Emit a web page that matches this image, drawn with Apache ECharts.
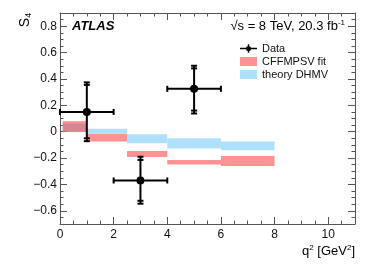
<!DOCTYPE html>
<html>
<head>
<meta charset="utf-8">
<script src="https://cdn.jsdelivr.net/npm/echarts@6/dist/echarts.min.js"></script>
<style>
html,body{margin:0;padding:0;background:#fff;}
#chart{width:374px;height:268px;}
</style>
</head>
<body>
<div id="chart"></div>
<script>
// ---- data ----
var dataX    = [1, 3, 5];
var dataXLo  = [0, 2, 4];
var dataXHi  = [2, 4, 6];
var dataY    = [0.15, -0.37, 0.325];
var statLo   = [-0.05, -0.524, 0.16];
var statHi   = [0.355, -0.214, 0.48];
var totLo    = [-0.072, -0.546, 0.138];
var totHi    = [0.374, -0.19, 0.50];

var binLo    = [0.1, 1, 2.5, 4, 6];
var binHi    = [1, 2.5, 4, 6, 8];
var cffLo    = [-0.003, -0.075, -0.192, -0.249, -0.26];
var cffHi    = [0.08, -0.015, -0.146, -0.214, -0.185];
var dhmvLo   = [0.0, -0.013, -0.088, -0.128, -0.141];
var dhmvHi   = [0.063, 0.023, -0.02, -0.05, -0.075];

var xTicks = [0, 2, 4, 6, 8, 10];
var yTicks = [-0.6, -0.4, -0.2, 0, 0.2, 0.4, 0.6, 0.8];

// ---- build ----
var FONT = "'Liberation Sans', Arial, Helvetica, sans-serif";
var dataRows = dataX.map(function (x, i) {
  return [x, dataY[i], dataXLo[i], dataXHi[i], statLo[i], statHi[i], totLo[i], totHi[i]];
});
var cffRows = binLo.map(function (l, i) { return [l, binHi[i], cffLo[i], cffHi[i]]; });
var dhmvRows = binLo.map(function (l, i) { return [l, binHi[i], dhmvLo[i], dhmvHi[i]]; });

function bandRender(params, api) {
  var p1 = api.coord([api.value(0), api.value(3)]);
  var p2 = api.coord([api.value(1), api.value(2)]);
  return {
    type: 'rect',
    shape: { x: p1[0], y: p1[1], width: p2[0] - p1[0], height: p2[1] - p1[1] },
    style: { fill: api.visual('color') }
  };
}

function errRender(params, api) {
  var x = api.value(0), y = api.value(1);
  var c = api.coord([x, y]);
  var l = api.coord([api.value(2), y]);
  var r = api.coord([api.value(3), y]);
  var sl = api.coord([x, api.value(4)]);
  var sh = api.coord([x, api.value(5)]);
  var tl = api.coord([x, api.value(6)]);
  var th = api.coord([x, api.value(7)]);
  var st = { stroke: '#000', lineWidth: 2 };
  var cw = 3;
  function line(x1, y1, x2, y2) {
    return { type: 'line', shape: { x1: x1, y1: y1, x2: x2, y2: y2 }, style: st };
  }
  return {
    type: 'group',
    children: [
      line(l[0], c[1], r[0], c[1]),
      line(c[0], tl[1], c[0], th[1]),
      line(l[0], c[1] - cw, l[0], c[1] + cw),
      line(r[0], c[1] - cw, r[0], c[1] + cw),
      line(c[0] - cw, sl[1], c[0] + cw, sl[1]),
      line(c[0] - cw, sh[1], c[0] + cw, sh[1]),
      line(c[0] - cw, tl[1], c[0] + cw, tl[1]),
      line(c[0] - cw, th[1], c[0] + cw, th[1]),
      { type: 'circle', shape: { cx: c[0], cy: c[1], r: 4 }, style: { fill: '#000' } }
    ]
  };
}

var AX = '#555';
function fmtY(v) {
  var s = (Math.round(v * 10) / 10).toString();
  return s.replace('-', '\u2212');
}
function mkX(pos, labels, major) {
  return {
    type: 'value', min: 0, max: 11, position: pos,
    interval: major ? undefined : 0.5,
    axisLine: { show: major, onZero: false, lineStyle: { color: AX, width: 1 } },
    axisTick: major
      ? { show: true, inside: true, length: 7, customValues: xTicks, lineStyle: { color: AX } }
      : { show: true, inside: true, length: 3.5, lineStyle: { color: AX } },
    axisLabel: labels
      ? { show: true, customValues: xTicks, margin: 5, fontSize: 12, color: '#111', fontFamily: FONT }
      : { show: false },
    splitLine: { show: false }
  };
}
function mkY(pos, labels, major) {
  return {
    type: 'value', min: -0.7, max: 0.9, position: pos,
    interval: major ? undefined : 0.05,
    axisLine: { show: major, onZero: false, lineStyle: { color: AX, width: 1 } },
    axisTick: major
      ? { show: true, inside: true, length: 7, customValues: yTicks, lineStyle: { color: AX } }
      : { show: true, inside: true, length: 3.5, lineStyle: { color: AX } },
    axisLabel: labels
      ? { show: true, customValues: yTicks, margin: 3, fontSize: 12, color: '#111', fontFamily: FONT, formatter: fmtY }
      : { show: false },
    splitLine: { show: false }
  };
}

var chart = echarts.init(document.getElementById('chart'), null, { renderer: 'canvas' });
chart.setOption({
  animation: false,
  backgroundColor: '#fff',
  grid: { left: 60, right: 19, top: 13, bottom: 44, containLabel: false },
  xAxis: [mkX('bottom', true, true), mkX('top', false, true), mkX('bottom', false, false), mkX('top', false, false)],
  yAxis: [mkY('left', true, true), mkY('right', false, true), mkY('left', false, false), mkY('right', false, false)],
  legend: {
    orient: 'vertical', left: 235, top: 38, itemGap: 2,
    itemWidth: 17, itemHeight: 9,
    textStyle: { fontSize: 11, color: '#111', fontFamily: FONT },
    data: [
      { name: 'Data', icon: 'path://M0,4.2h20v1.6h-20z M9.2,0h1.6v10h-1.6z M13,5a3,3 0 1,1 -6,0a3,3 0 1,1 6,0z' },
      { name: 'CFFMPSV fit', icon: 'rect' },
      { name: 'theory DHMV', icon: 'rect' }
    ]
  },
  graphic: [
    { type: 'text', left: 72, top: 20, style: { text: 'ATLAS', font: 'italic bold 13px ' + FONT, fill: '#000' } },
    { type: 'text', right: 29, top: 19, style: {
        text: '{n|\u221As = 8 TeV, 20.3 fb}{s|-1}',
        rich: { n: { fontSize: 13, fontFamily: FONT, fill: '#000', lineHeight: 15 },
                s: { fontSize: 8, fontFamily: FONT, fill: '#000', verticalAlign: 'top', lineHeight: 15 } } } },
    { type: 'text', x: 25, y: 20, rotation: Math.PI / 2, style: {
        text: '{n|S}{s|4}', align: 'center', verticalAlign: 'middle',
        rich: { n: { fontSize: 14, fontFamily: FONT, fill: '#000', lineHeight: 16 },
                s: { fontSize: 9, fontFamily: FONT, fill: '#000', verticalAlign: 'bottom', lineHeight: 16 } } } },
    { type: 'text', right: 19, top: 244, style: {
        text: '{n|q}{s|2}{n| [GeV}{s|2}{n|]}',
        rich: { n: { fontSize: 13, fontFamily: FONT, fill: '#000', lineHeight: 15 },
                s: { fontSize: 8, fontFamily: FONT, fill: '#000', verticalAlign: 'top', lineHeight: 15 } } } }
  ],
  series: [
    { name: 'theory DHMV', type: 'custom', renderItem: bandRender, data: dhmvRows,
      itemStyle: { color: 'rgb(175,225,255)' }, encode: { x: [0, 1], y: [2, 3] }, z: 1 },
    { name: 'CFFMPSV fit', type: 'custom', renderItem: bandRender, data: cffRows,
      itemStyle: { color: 'rgba(255,40,40,0.5)' }, encode: { x: [0, 1], y: [2, 3] }, z: 2 },
    { name: 'Data', type: 'custom', renderItem: errRender, data: dataRows,
      itemStyle: { color: '#000' }, encode: { x: [0, 2, 3], y: [1, 4, 5, 6, 7] }, z: 3 }
  ]
});
</script>
</body>
</html>
